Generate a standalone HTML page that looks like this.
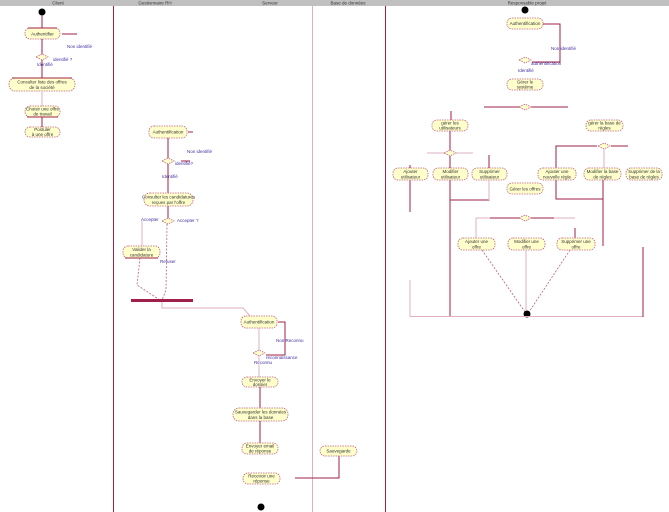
<!DOCTYPE html>
<html><head><meta charset="utf-8"><style>
html,body{margin:0;padding:0;background:#fff;width:669px;height:512px;overflow:hidden}
svg{display:block}
text{font-family:"Liberation Sans",sans-serif;font-size:4.5px;fill:#333}
.b{fill:#ffffcc;stroke:#c06080;stroke-width:0.8;stroke-dasharray:1.5,1}
.d{fill:#ffffcc;stroke:#c06080;stroke-width:0.8;stroke-dasharray:1.5,1}
.l{stroke:#a0204a;stroke-width:1;fill:none}
.lp{stroke:#e0b0c0;stroke-width:1;fill:none}
.ds{stroke:#c06080;stroke-width:0.8;fill:none;stroke-dasharray:2,1.5}
.lb{fill:#4030a0}
</style></head><body>
<svg width="669" height="512" viewBox="0 0 669 512">
<rect x="0" y="0" width="669" height="6" fill="#c0c0c0"/>
<text x="58" y="4.5" text-anchor="middle">Client</text>
<text x="155" y="4.5" text-anchor="middle">Gestionnaire RH</text>
<text x="270" y="4.5" text-anchor="middle">Serveur</text>
<text x="348" y="4.5" text-anchor="middle">Base de données</text>
<text x="527" y="4.5" text-anchor="middle">Responsable projet</text>
<line x1="113.5" y1="6" x2="113.5" y2="512" class="l"/>
<line x1="312.5" y1="6" x2="312.5" y2="512" class="lp"/>
<line x1="385.5" y1="6" x2="385.5" y2="512" class="l"/>

<!-- Lane 1 -->
<circle cx="42" cy="12" r="3.5" fill="#000"/>
<line x1="42" y1="15" x2="42" y2="28" class="l"/>
<rect x="25" y="28" width="35" height="11" rx="5" class="b"/>
<line x1="28" y1="28" x2="57" y2="28" class="l"/>
<text x="42.5" y="35.5" text-anchor="middle">Authentifier</text>
<line x1="62" y1="34" x2="77" y2="34" class="l"/>
<line x1="42" y1="39" x2="42" y2="54" class="l"/>
<polygon points="36,57 42,54 48,57 42,60" class="d"/>
<text x="67" y="48" class="lb">Non identifié</text>
<text x="53" y="61" class="lb">identifié ?</text>
<text x="37" y="66" class="lb">Identifié</text>
<line x1="42" y1="60" x2="42" y2="78" class="l"/>
<rect x="9" y="78" width="66" height="13" rx="6" class="b"/>
<line x1="12" y1="78" x2="72" y2="78" class="l"/>
<text x="42" y="83.5" text-anchor="middle">Consulter liste des offres</text>
<text x="42" y="89" text-anchor="middle">de la société</text>
<line x1="42" y1="91" x2="42" y2="106" class="lp"/>
<rect x="25" y="106" width="35" height="11" rx="5" class="b"/>
<line x1="27" y1="117" x2="58" y2="117" class="l"/>
<text x="42.5" y="110.5" text-anchor="middle">Choisir une offre</text>
<text x="42.5" y="115.5" text-anchor="middle">de travail</text>
<line x1="42" y1="117" x2="42" y2="127" class="l"/>
<rect x="25" y="127" width="35" height="10" rx="5" class="b"/>
<text x="42.5" y="131" text-anchor="middle">Postuler</text>
<text x="42.5" y="136" text-anchor="middle">à une offre</text>

<!-- Lane 2 -->
<rect x="149" y="126" width="38" height="12" rx="5" class="b"/>
<text x="168" y="133.5" text-anchor="middle">Authentification</text>
<line x1="188" y1="132" x2="193" y2="132" class="l"/>
<line x1="168" y1="138" x2="168" y2="158" class="l"/>
<text x="187" y="153" class="lb">Non identifié</text>
<polygon points="162,161 168,158 174,161 168,164" class="d"/>
<line x1="181" y1="161" x2="190" y2="161" class="l"/>
<text x="175" y="165" class="lb">identifié?</text>
<text x="162" y="178" class="lb">Identifié</text>
<line x1="168" y1="164" x2="168" y2="193" class="l"/>
<rect x="144" y="193" width="49" height="13" rx="6" class="b"/>
<text x="168.5" y="198.5" text-anchor="middle">Consulter les candidatures</text>
<text x="168.5" y="204" text-anchor="middle">reçues par l'offre</text>
<line x1="168" y1="206" x2="168" y2="218" class="l"/>
<polygon points="162,221 168,218 174,221 168,224" class="d"/>
<text x="177" y="222" class="lb">Accepter ?</text>
<text x="141" y="221" class="lb">Accepter</text>
<line x1="142" y1="221" x2="142" y2="246" class="lp"/>
<rect x="123" y="246" width="37" height="12" rx="5" class="b"/>
<line x1="125" y1="258" x2="158" y2="258" class="l"/>
<text x="141.5" y="251" text-anchor="middle">Valider la</text>
<text x="141.5" y="256.5" text-anchor="middle">candidature</text>
<text x="160" y="263" class="lb">Refuser</text>
<polyline points="167,224 166,290 162,300" class="ds"/>
<polyline points="140,258 137,285 160,300" class="ds"/>
<rect x="131" y="299" width="62" height="3" fill="#a0204a"/>
<polyline points="162,302 162,308 243,308 250,316" class="lp"/>

<!-- Lane 3 -->
<rect x="241" y="316" width="36" height="12" rx="5" class="b"/>
<text x="259" y="323.5" text-anchor="middle">Authentification</text>
<polyline points="278,322 285,322 285,355 266,355" class="l"/>
<text x="276" y="342" class="lb">Non Reconnu</text>
<line x1="259" y1="328" x2="259" y2="350" class="lp"/>
<polygon points="253,353 259,350 265,353 259,356" class="d"/>
<text x="266" y="359" class="lb">reconnaissance</text>
<text x="254" y="364" class="lb">Reconnu</text>
<line x1="259" y1="356" x2="259" y2="377" class="lp"/>
<rect x="242" y="377" width="36" height="10" rx="5" class="b"/>
<text x="260" y="381.5" text-anchor="middle">Envoyer le</text>
<text x="260" y="386" text-anchor="middle">dossier</text>
<line x1="260" y1="387" x2="260" y2="408" class="l"/>
<rect x="233" y="408" width="55" height="13" rx="6" class="b"/>
<text x="260.5" y="413.5" text-anchor="middle">Sauvegarder les données</text>
<text x="260.5" y="419" text-anchor="middle">dans la base</text>
<line x1="260" y1="421" x2="260" y2="443" class="l"/>
<rect x="242" y="443" width="36" height="11" rx="5" class="b"/>
<text x="260" y="447.5" text-anchor="middle">Envoyer email</text>
<text x="260" y="452.5" text-anchor="middle">de réponse</text>
<rect x="243" y="473" width="37" height="11" rx="5" class="b"/>
<text x="261.5" y="477.5" text-anchor="middle">Recevoir une</text>
<text x="261.5" y="482.5" text-anchor="middle">réponse</text>
<polyline points="295,478 339,478 339,455" class="l"/>
<circle cx="261" cy="507" r="3.5" fill="#000"/>

<!-- Lane 4 -->
<rect x="320" y="446" width="37" height="10" rx="5" class="b"/>
<text x="338.5" y="452.5" text-anchor="middle">Sauvegarde</text>

<!-- Lane 5 -->
<circle cx="525" cy="10" r="3.5" fill="#000"/>
<rect x="507" y="18" width="36" height="11" rx="5" class="b"/>
<text x="525" y="25" text-anchor="middle">Authentification</text>
<polyline points="543,24 560,24 560,62 532,62" class="l"/>
<text x="551" y="50" class="lb">Non identifié</text>
<polygon points="519,60 525,57 531,60 525,63" class="d"/>
<text x="531" y="65" class="lb">authentification</text>
<text x="518" y="72" class="lb">Identifié</text>
<rect x="507" y="79" width="36" height="11" rx="5" class="b"/>
<text x="525" y="83.5" text-anchor="middle">Gérer le</text>
<text x="525" y="88.5" text-anchor="middle">système</text>
<line x1="484" y1="107" x2="568" y2="107" class="l"/>
<polygon points="519,107 525,104 531,107 525,110" class="d"/>
<line x1="451" y1="111" x2="451" y2="120" class="l"/>
<rect x="432" y="120" width="36" height="11" rx="5" class="b"/>
<text x="450" y="124.5" text-anchor="middle">gérer les</text>
<text x="450" y="129.5" text-anchor="middle">utilisateurs</text>
<rect x="586" y="120" width="37" height="11" rx="5" class="b"/>
<text x="604.5" y="124.5" text-anchor="middle">gérer la base de</text>
<text x="604.5" y="129.5" text-anchor="middle">règles</text>
<line x1="450" y1="131" x2="450" y2="150" class="l"/>
<line x1="427" y1="153" x2="473" y2="153" class="lp"/>
<polygon points="444,153 450,150 456,153 450,156" class="d"/>
<line x1="410" y1="165" x2="410" y2="212" class="l"/>
<line x1="489" y1="155" x2="489" y2="168" class="l"/>
<line x1="450" y1="156" x2="450" y2="168" class="l"/>
<polyline points="556,180 556,146 597,146" class="l"/>
<polyline points="611,146 628,146" class="l"/>
<polygon points="598,146 604,143 610,146 604,149" class="d"/>
<line x1="604" y1="149" x2="604" y2="168" class="lp"/>
<rect x="393" y="168" width="35" height="12" rx="5" class="b"/>
<text x="410.5" y="173" text-anchor="middle">Ajouter</text>
<text x="410.5" y="178.5" text-anchor="middle">utilisateur</text>
<rect x="433" y="168" width="35" height="12" rx="5" class="b"/>
<text x="450.5" y="173" text-anchor="middle">Modifier</text>
<text x="450.5" y="178.5" text-anchor="middle">utilisateur</text>
<rect x="472" y="168" width="35" height="12" rx="5" class="b"/>
<text x="489.5" y="173" text-anchor="middle">Supprimer</text>
<text x="489.5" y="178.5" text-anchor="middle">utilisateur</text>
<rect x="538" y="168" width="38" height="12" rx="5" class="b"/>
<text x="557" y="173" text-anchor="middle">Ajouter une</text>
<text x="557" y="178.5" text-anchor="middle">nouvelle règle</text>
<rect x="584" y="168" width="37" height="12" rx="5" class="b"/>
<text x="602.5" y="173" text-anchor="middle">Modifier la base</text>
<text x="602.5" y="178.5" text-anchor="middle">de règles</text>
<rect x="626" y="168" width="36" height="12" rx="5" class="b"/>
<text x="644" y="173" text-anchor="middle">Supprimer de la</text>
<text x="644" y="178.5" text-anchor="middle">base de règles</text>
<line x1="450" y1="180" x2="450" y2="317" class="l"/>
<polyline points="450,200 489,200 489,180" class="l"/>
<line x1="489" y1="180" x2="489" y2="200" class="lp"/>
<polyline points="556,180 556,199 603,199 603,180" class="l"/>
<line x1="603" y1="199" x2="603" y2="246" class="l"/>
<rect x="507" y="183" width="36" height="11" rx="5" class="b"/>
<text x="525" y="190.5" text-anchor="middle">Gérer les offres</text>
<line x1="476" y1="218" x2="575" y2="218" class="lp"/>
<line x1="490" y1="218" x2="554" y2="218" class="l"/>
<polygon points="519,218 525,215 531,218 525,221" class="d"/>
<line x1="476" y1="218" x2="476" y2="238" class="lp"/>
<line x1="575" y1="228" x2="575" y2="238" class="l"/>
<rect x="458" y="238" width="37" height="12" rx="5" class="b"/>
<text x="476.5" y="243" text-anchor="middle">Ajouter une</text>
<text x="476.5" y="248.5" text-anchor="middle">offre</text>
<rect x="508" y="238" width="37" height="12" rx="5" class="b"/>
<text x="526.5" y="243" text-anchor="middle">Modifier une</text>
<text x="526.5" y="248.5" text-anchor="middle">offre</text>
<rect x="557" y="238" width="38" height="12" rx="5" class="b"/>
<text x="576" y="243" text-anchor="middle">Supprimer une</text>
<text x="576" y="248.5" text-anchor="middle">offre</text>
<line x1="482" y1="250" x2="525" y2="312" class="ds"/>
<line x1="570" y1="250" x2="529" y2="312" class="ds"/>
<line x1="526" y1="250" x2="526" y2="310" class="lp"/>
<circle cx="527" cy="314" r="3.5" fill="#000"/>
<line x1="410" y1="280" x2="410" y2="317" class="lp"/>
<line x1="410" y1="316.5" x2="643" y2="316.5" class="lp"/>
<line x1="643" y1="247" x2="643" y2="317" class="l"/>
</svg>
</body></html>
